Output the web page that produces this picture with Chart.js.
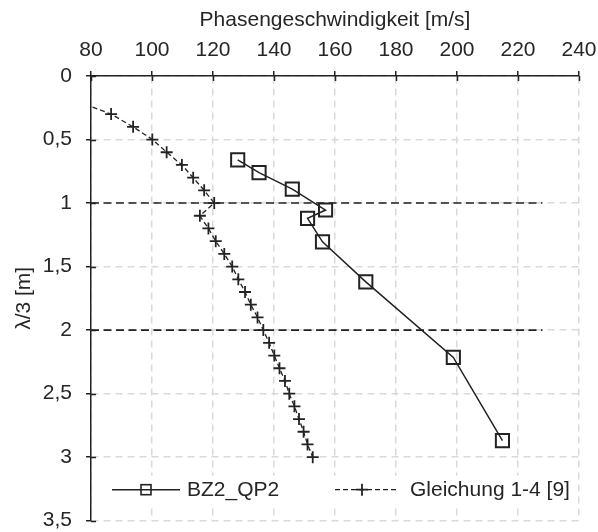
<!DOCTYPE html>
<html>
<head>
<meta charset="utf-8">
<script src="https://cdn.jsdelivr.net/npm/chart.js@4.4.1/dist/chart.umd.min.js"></script>
<style>
  html, body { margin: 0; padding: 0; background: #fff; }
</style>
</head>
<body>
<canvas id="myChart" width="598" height="532"></canvas>
<script>
// measured series (lambda/3 depth vs. phase velocity)
var speedBZ2 = [128.1, 135.1, 146.0, 156.9, 151.0, 155.9, 170.1, 198.8, 214.9];
var depthBZ2 = [0.66, 0.76, 0.89, 1.055, 1.12, 1.305, 1.62, 2.215, 2.87];

// Gleichung 1-4 [9]
var depthEq = [0.2, 0.3, 0.4, 0.5, 0.6, 0.7, 0.8, 0.9, 1.0, 1.1, 1.2, 1.3, 1.4, 1.5,
               1.6, 1.7, 1.8, 1.9, 2.0, 2.1, 2.2, 2.3, 2.4, 2.5, 2.6, 2.7, 2.8, 2.9, 3.0];
var speedEq = [75.6, 86.6, 93.8, 100.1, 104.8, 109.8, 113.5, 117.1, 120.4, 115.7, 118.5,
               120.9, 123.7, 126.3, 128.3, 130.5, 132.4, 134.6, 136.5, 138.4, 140.1, 141.8,
               143.6, 145.0, 146.7, 148.2, 149.7, 151.0, 152.7];

// layer boundaries
var layerDepths = [1, 2];
var layerSpeedRange = [80, 228];

var labels = ['BZ2_QP2', 'Gleichung 1-4 [9]'];
var ink = '#222222';
var textColor = '#262626';
var font = 'Liberation Sans, Arial, sans-serif';
var fontSize = 21;

function pts(xs, ys) {
    return xs.map(function (x, i) { return { x: x, y: ys[i] }; });
}

var datasets = [{
    label: labels[0],
    data: pts(speedBZ2, depthBZ2),
    showLine: true,
    borderColor: ink,
    borderWidth: 1.5,
    pointStyle: 'rect',
    pointRadius: 9.3,
    pointBorderWidth: 2,
    pointBackgroundColor: 'rgba(0,0,0,0)',
    pointBorderColor: ink
}, {
    label: labels[1],
    data: pts(speedEq, depthEq),
    showLine: true,
    borderColor: ink,
    borderWidth: 1.3,
    borderDash: [5, 3],
    pointStyle: 'cross',
    pointRadius: 6,
    pointBorderWidth: 1.8,
    pointBorderColor: ink
}];

layerDepths.forEach(function (d) {
    datasets.push({
        label: 'layer',
        data: layerSpeedRange.map(function (s) { return { x: s, y: d }; }),
        showLine: true,
        borderColor: ink,
        borderWidth: 1.6,
        borderDash: [8, 4.5],
        pointRadius: 0
    });
});

// tick marks that cross the axis lines
var innerTicks = {
    id: 'innerTicks',
    afterDraw: function (chart) {
        var ctx = chart.ctx, a = chart.chartArea;
        var xs = chart.scales.x, ys = chart.scales.y;
        ctx.save();
        ctx.strokeStyle = ink;
        ctx.lineWidth = 1.5;
        ctx.beginPath();
        xs.ticks.forEach(function (t) {
            var px = Math.round(xs.getPixelForValue(t.value)) + 0.5;
            ctx.moveTo(px, a.top);
            ctx.lineTo(px, a.top + 5);
        });
        ys.ticks.forEach(function (t) {
            var py = Math.round(ys.getPixelForValue(t.value)) + 0.5;
            ctx.moveTo(a.left, py);
            ctx.lineTo(a.left + 5, py);
        });
        ctx.stroke();
        ctx.restore();
    }
};

// legend inside the plot, line + marker samples
var innerLegend = {
    id: 'innerLegend',
    afterDraw: function (chart) {
        var ctx = chart.ctx, a = chart.chartArea;
        var yc = a.bottom - 31;
        ctx.save();
        ctx.fillStyle = '#ffffff';
        ctx.fillRect(a.left + 13, yc - 14, a.right - a.left - 14, 28);

        ctx.strokeStyle = ink;
        ctx.fillStyle = textColor;
        ctx.font = fontSize + 'px ' + font;
        ctx.textBaseline = 'middle';

        // BZ2_QP2
        var x0 = a.left + 21;
        ctx.lineWidth = 1.5;
        ctx.beginPath();
        ctx.moveTo(x0, yc); ctx.lineTo(x0 + 68, yc);
        ctx.stroke();
        ctx.lineWidth = 1.6;
        ctx.strokeRect(x0 + 29, yc - 5, 10, 10);
        ctx.fillText(labels[0], x0 + 75, yc + 1);

        // Gleichung
        var x1 = a.left + 244;
        ctx.lineWidth = 1.3;
        ctx.setLineDash([5, 3]);
        ctx.beginPath();
        ctx.moveTo(x1, yc); ctx.lineTo(x1 + 62, yc);
        ctx.stroke();
        ctx.setLineDash([]);
        ctx.lineWidth = 1.8;
        ctx.beginPath();
        ctx.moveTo(x1 + 27, yc - 6); ctx.lineTo(x1 + 27, yc + 6);
        ctx.moveTo(x1 + 21, yc); ctx.lineTo(x1 + 33, yc);
        ctx.stroke();
        ctx.fillText(labels[1], x1 + 75, yc + 1);
        ctx.restore();
    }
};

var ctx = document.getElementById('myChart').getContext('2d');
window.myChart = new Chart(ctx, {
    type: 'scatter',
    data: { datasets: datasets },
    plugins: [innerTicks, innerLegend],
    options: {
        responsive: false,
        animation: false,
        layout: { padding: { left: 0, right: 19, top: 0, bottom: 9 } },
        plugins: {
            legend: { display: false },
            tooltip: { enabled: false }
        },
        scales: {
            x: {
                type: 'linear',
                position: 'top',
                min: 80,
                max: 240,
                afterFit: function (scale) {
                    scale.height = 76;
                    scale.paddingLeft = 0;
                    scale.paddingRight = 0;
                },
                ticks: {
                    stepSize: 20,
                    padding: 8,
                    color: textColor,
                    font: { family: font, size: fontSize }
                },
                grid: {
                    color: '#d9d9d9',
                    lineWidth: 1.5,
                    tickLength: 5,
                    tickColor: ink,
                    tickWidth: 1.5
                },
                border: { display: true, color: ink, width: 1.5, dash: [7, 5] },
                title: {
                    display: true,
                    text: 'Phasengeschwindigkeit [m/s]',
                    color: textColor,
                    font: { family: font, size: fontSize },
                    padding: { top: 8, bottom: 0 }
                }
            },
            y: {
                type: 'linear',
                position: 'left',
                reverse: true,
                min: 0,
                max: 3.5,
                afterFit: function (scale) {
                    scale.width = 91;
                    scale.paddingTop = 0;
                    scale.paddingBottom = 0;
                },
                ticks: {
                    stepSize: 0.5,
                    padding: 14,
                    color: textColor,
                    font: { family: font, size: fontSize },
                    callback: function (v) { return String(v).replace('.', ','); }
                },
                grid: {
                    color: '#d9d9d9',
                    lineWidth: 1.5,
                    tickLength: 5,
                    tickColor: ink,
                    tickWidth: 1.5
                },
                border: { display: true, color: ink, width: 1.5, dash: [7, 5] },
                title: {
                    display: true,
                    text: 'λ/3 [m]',
                    color: textColor,
                    font: { family: font, size: fontSize },
                    padding: { top: 12, bottom: 0 }
                }
            }
        }
    }
});
</script>
</body>
</html>
